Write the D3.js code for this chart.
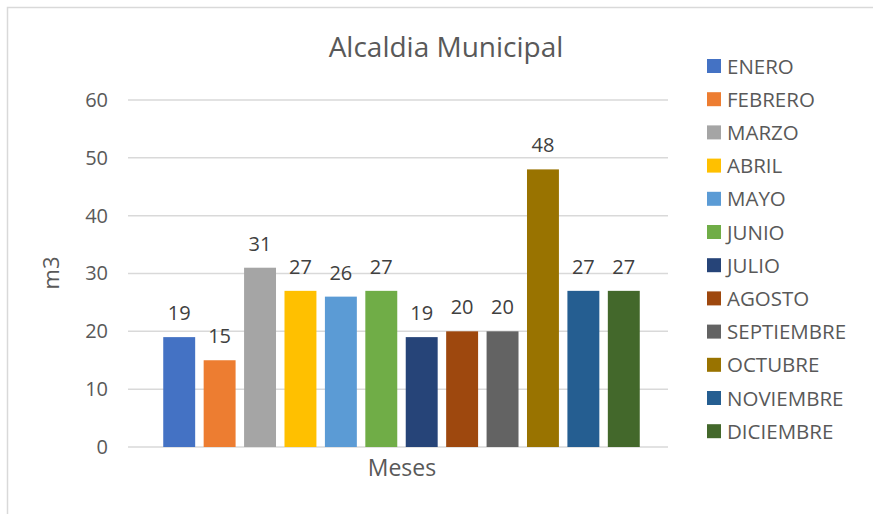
<!DOCTYPE html>
<html>
<head>
<meta charset="utf-8">
<script src="https://cdn.jsdelivr.net/npm/d3@7"></script>
<style>
  body { margin: 0; background: #fff; }
  text { font-family: "Open Sans", "Noto Sans", sans-serif; }
</style>
</head>
<body>
<div id="chart"></div>
<script>
// data
var months = ["ENERO", "FEBRERO", "MARZO", "ABRIL", "MAYO", "JUNIO",
  "JULIO", "AGOSTO", "SEPTIEMBRE", "OCTUBRE", "NOVIEMBRE", "DICIEMBRE"];
var values = [19, 15, 31, 27, 26, 27, 19, 20, 20, 48, 27, 27];
var colors = ["#4472C4", "#ED7D31", "#A5A5A5", "#FFC000", "#5B9BD5", "#70AD47",
  "#264478", "#9E480E", "#636363", "#997300", "#255E91", "#43682B"];
var yTicks = [0, 10, 20, 30, 40, 50, 60];

var width = 873, height = 514;

var svg = d3.select("#chart").append("svg")
  .attr("width", width)
  .attr("height", height);

// chart frame (only top and left edges are in view)
svg.append("rect")
  .attr("x", 7.5).attr("y", 7.5)
  .attr("width", 900).attr("height", 600)
  .attr("fill", "none")
  .attr("stroke", "#D9D9D9")
  .attr("stroke-width", 1.5);

var plot = {left: 128, right: 668, top: 100, bottom: 447};

var y = d3.scaleLinear().domain([0, 60]).range([plot.bottom, plot.top]);
var x = d3.scaleBand().domain(months)
  .range([159, 644])
  .paddingInner(0.21)
  .paddingOuter(0.105);

// gridlines
svg.append("g").selectAll("line")
  .data(yTicks)
  .enter().append("line")
  .attr("x1", plot.left).attr("x2", plot.right)
  .attr("y1", function(d) { return y(d); })
  .attr("y2", function(d) { return y(d); })
  .attr("stroke", "#D9D9D9")
  .attr("stroke-width", 1.5);

// y axis labels
var yAxis = svg.append("g")
  .attr("transform", "translate(" + (plot.left - 20) + ",0)")
  .call(d3.axisLeft(y).tickValues(yTicks).tickSize(0).tickPadding(0));
yAxis.select(".domain").remove();
yAxis.selectAll("text")
  .attr("fill", "#595959")
  .style("font-size", "20px")
  .style("font-family", "'Open Sans', sans-serif");

// bars
svg.append("g").selectAll("rect")
  .data(values)
  .enter().append("rect")
  .attr("x", function(d, i) { return x(months[i]); })
  .attr("y", function(d) { return y(d); })
  .attr("width", x.bandwidth())
  .attr("height", function(d) { return y(0) - y(d); })
  .attr("fill", function(d, i) { return colors[i]; });

// data labels
svg.append("g").selectAll("text")
  .data(values)
  .enter().append("text")
  .attr("x", function(d, i) { return x(months[i]) + x.bandwidth() / 2; })
  .attr("y", function(d) { return y(d) - 17; })
  .attr("text-anchor", "middle")
  .attr("fill", "#404040")
  .style("font-size", "20px")
  .text(function(d) { return d; });

// title
svg.append("text")
  .attr("x", 446).attr("y", 57)
  .attr("text-anchor", "middle")
  .attr("fill", "#595959")
  .style("font-size", "28px")
  .text("Alcaldia Municipal");

// axis titles
svg.append("text")
  .attr("x", 402).attr("y", 476)
  .attr("text-anchor", "middle")
  .attr("fill", "#595959")
  .style("font-size", "23px")
  .text("Meses");

svg.append("text")
  .attr("transform", "translate(59,273) rotate(-90)")
  .attr("text-anchor", "middle")
  .attr("fill", "#595959")
  .style("font-size", "22px")
  .text("m3");

// legend
var legend = svg.append("g").selectAll("g")
  .data(months)
  .enter().append("g")
  .attr("transform", function(d, i) { return "translate(707," + (66 + i * 33.2) + ")"; });

legend.append("rect")
  .attr("x", 0).attr("y", -7)
  .attr("width", 14).attr("height", 14)
  .attr("fill", function(d, i) { return colors[i]; });

legend.append("text")
  .attr("x", 20).attr("y", 7.5)
  .attr("fill", "#595959")
  .style("font-size", "20.5px")
  .text(function(d) { return d; });
</script>
</body>
</html>
